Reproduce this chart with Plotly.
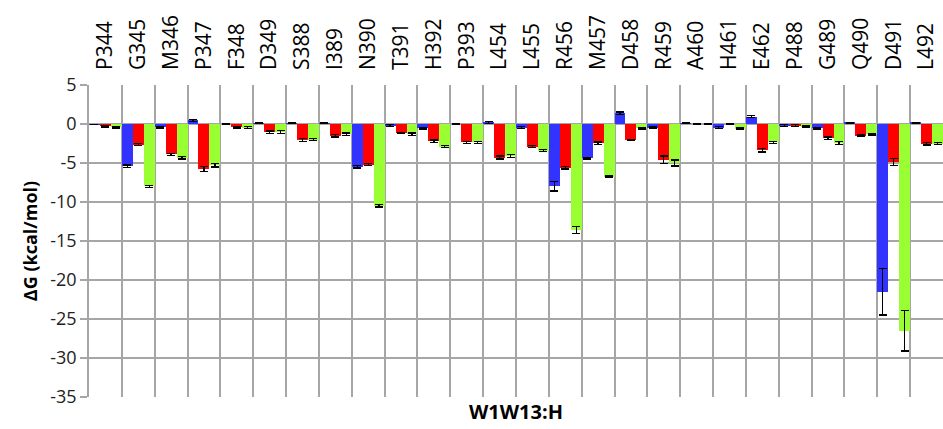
import plotly.graph_objects as go

categories = ["P344", "G345", "M346", "P347", "F348", "D349", "S388", "I389", "N390", "T391",
              "H392", "P393", "L454", "L455", "R456", "M457", "D458", "R459", "A460", "H461",
              "E462", "P488", "G489", "Q490", "D491", "L492"]

blue_vals = [-0.05, -5.4, -0.4, 0.45, 0.0, 0.1, 0.1, 0.1, -5.5, -0.2,
             -0.55, 0.0, 0.2, -0.45, -8.0, -4.4, 1.4, -0.5, 0.1, -0.45,
             0.95, -0.2, -0.55, 0.15, -21.5, 0.15]
red_vals = [-0.3, -2.65, -3.9, -5.75, -0.4, -1.05, -2.05, -1.5, -5.2, -1.15,
            -2.2, -2.35, -4.3, -2.9, -5.6, -2.45, -2.05, -4.6, 0.0, 0.0,
            -3.35, -0.2, -1.8, -1.5, -4.9, -2.55]
green_vals = [-0.4, -8.0, -4.35, -5.3, -0.45, -1.0, -2.0, -1.3, -10.5, -1.3,
              -2.9, -2.35, -4.1, -3.4, -13.6, -6.75, -0.55, -5.0, 0.0, -0.6,
              -2.35, -0.35, -2.45, -1.3, -26.5, -2.5]

blue_err = [None, 0.15, 0.1, 0.1, None, 0.05, 0.05, 0.05, 0.15, 0.1,
            0.1, None, 0.1, 0.1, 0.6, 0.1, 0.15, 0.1, 0.05, 0.1,
            0.15, 0.1, 0.1, 0.05, 3.0, 0.05]
red_err = [0.1, 0.15, 0.15, 0.3, 0.1, 0.15, 0.2, 0.15, 0.15, 0.1,
           0.15, 0.15, 0.2, 0.15, 0.15, 0.15, 0.1, 0.5, None, None,
           0.25, 0.1, 0.15, 0.1, 0.45, 0.15]
green_err = [0.1, 0.15, 0.15, 0.2, 0.1, 0.2, 0.15, 0.15, 0.15, 0.15,
             0.15, 0.15, 0.2, 0.15, 0.45, 0.1, 0.1, 0.4, None, 0.1,
             0.15, 0.1, 0.2, 0.1, 2.6, 0.15]

y_ticks = [5, 0, -5, -10, -15, -20, -25, -30, -35]

series = [
    ("blue", blue_vals, blue_err, "#3333FF"),
    ("red", red_vals, red_err, "#FF0000"),
    ("green", green_vals, green_err, "#99FF33"),
]

fig = go.Figure()
for name, vals, errs, col in series:
    fig.add_trace(go.Bar(
        x=categories, y=vals, name=name,
        marker=dict(color=col, line=dict(width=0)),
        error_y=dict(type="data", array=errs, visible=True,
                     color="black", thickness=1.3, width=4),
    ))

font_family = "Open Sans"
grid_col = "#A6A6A6"

fig.update_layout(
    width=943, height=429,
    margin=dict(l=89, r=0, t=85, b=32),
    paper_bgcolor="white", plot_bgcolor="white",
    barmode="group", bargap=0, bargroupgap=0,
    showlegend=False,
    font=dict(family=font_family, color="black"),
    xaxis=dict(
        type="category", side="top", tickangle=-90,
        tickson="boundaries", ticks="",
        showgrid=True, gridcolor=grid_col, gridwidth=1.5,
        showline=False, zeroline=False,
        tickfont=dict(size=21, family=font_family, color="black"),
        ticklabelstandoff=14,
    ),
    yaxis=dict(
        range=[-35, 5], tickvals=y_ticks, ticktext=[str(v) for v in y_ticks],
        showgrid=True, gridcolor=grid_col, gridwidth=1.5,
        zeroline=False,
        showline=True, linecolor=grid_col, linewidth=1.5,
        ticks="outside", ticklen=7, tickcolor=grid_col, tickwidth=1.5,
        tickfont=dict(size=18, family=font_family, color="#222222"),
        title=dict(text="<b>ΔG (kcal/mol)</b>", font=dict(size=18, family=font_family, color="black"),
                   standoff=8),
    ),
    annotations=[dict(
        text="<b>W1W13:H</b>", xref="paper", yref="paper",
        x=(516 - 89) / 854, y=-0.045, xanchor="center", yanchor="middle",
        showarrow=False, font=dict(size=20, family=font_family, color="black"),
    )],
)

fig.write_html("out.html")
